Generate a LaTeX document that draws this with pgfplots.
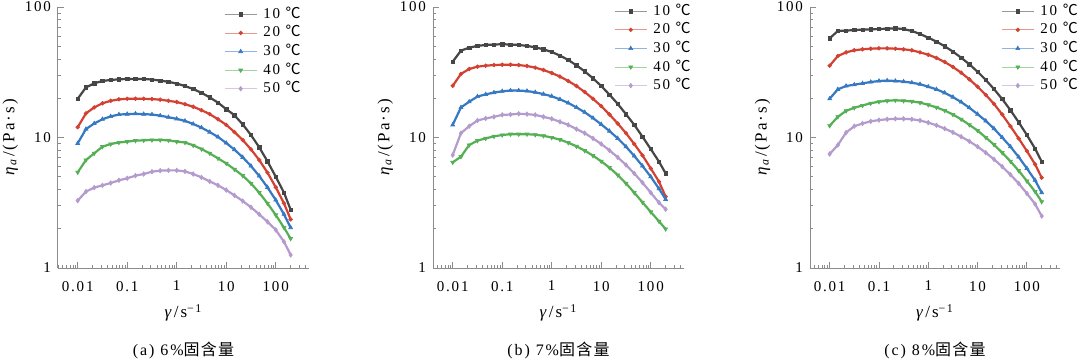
\documentclass[border=0pt]{standalone}
\usepackage{fontspec}
\usepackage{pgfplots}
\pgfplotsset{compat=1.18}
\usepackage{pgfplotstable}
\setmainfont{Liberation Serif}[LetterSpace=12]
\newfontfamily\cjk{Noto Sans CJK SC}[LetterSpace=8]
\newcommand{\dC}{{\cjk ℃}}
\definecolor{c10}{RGB}{70,70,70}
\definecolor{c20}{RGB}{210,65,50}
\definecolor{c30}{RGB}{55,120,195}
\definecolor{c40}{RGB}{85,175,85}
\definecolor{c50}{RGB}{180,155,205}

\pgfplotstableread{
x t10 t20 t30 t40 t50
0.01 19.8 12.0 9.02 5.41 3.28
0.01468 24.2 15.3 11.6 6.72 3.85
0.02154 26.0 17.0 12.8 7.56 4.13
0.03162 27.1 18.3 13.8 8.51 4.30
0.04642 27.6 19.1 14.5 8.91 4.48
0.06813 27.9 19.6 15.0 9.16 4.70
0.1 28.1 19.8 15.1 9.29 4.87
0.1468 28.1 19.8 15.2 9.46 5.10
0.2154 28.1 19.8 15.1 9.52 5.25
0.3162 27.8 19.7 15.0 9.57 5.47
0.4642 27.3 19.5 14.7 9.57 5.57
0.6813 26.7 19.1 14.3 9.52 5.60
1 25.9 18.7 13.9 9.29 5.60
1.468 24.8 18.0 13.4 9.16 5.50
2.154 23.5 17.2 12.7 8.71 5.25
3.162 22.0 16.2 11.9 8.16 4.95
4.642 20.3 15.1 11.0 7.56 4.61
6.813 18.5 13.8 10.1 6.92 4.30
10 16.5 12.5 9.07 6.34 3.96
14.68 14.8 11.0 8.07 5.70 3.60
21.54 12.6 9.57 7.05 5.10 3.26
31.62 10.45 8.11 6.05 4.45 2.92
46.42 8.41 6.72 5.07 3.78 2.58
68.13 6.57 5.38 4.15 3.13 2.26
100 5.01 4.16 3.32 2.55 1.96
146.8 3.78 3.13 2.58 2.04 1.59
200 2.80 2.36 2.04 1.68 1.26
}\dataA

\pgfplotstableread{
x t10 t20 t30 t40 t50
0.01 38.1 24.9 12.5 6.45 7.34
0.01468 46.3 30.7 17.0 7.13 10.8
0.02154 48.8 33.5 18.8 8.76 12.2
0.03162 50.3 34.9 20.6 9.46 13.5
0.04642 51.2 35.5 21.4 9.85 14.0
0.06813 51.5 35.9 22.1 10.2 14.4
0.1 51.9 36.1 22.6 10.45 14.9
0.1468 51.5 36.1 22.9 10.6 15.0
0.2154 51.2 35.9 22.9 10.6 15.2
0.3162 50.3 35.3 22.7 10.6 15.1
0.4642 49.1 34.3 22.2 10.5 14.9
0.6813 47.4 32.9 21.5 10.3 14.4
1 45.2 31.2 20.7 10.0 13.9
1.468 42.4 29.3 19.6 9.63 13.2
2.154 39.3 27.1 18.4 9.13 12.5
3.162 35.7 24.8 17.0 8.56 11.6
4.642 32.1 22.3 15.6 7.93 10.8
6.813 28.4 19.8 14.1 7.26 9.85
10 24.8 17.4 12.6 6.57 8.92
14.68 21.3 15.0 11.2 5.87 7.97
21.54 18.1 12.8 9.85 5.16 7.05
31.62 15.1 10.8 8.51 4.45 6.16
46.42 12.5 8.92 7.22 3.78 5.31
68.13 10.15 7.30 6.05 3.19 4.51
100 8.16 5.80 5.01 2.69 3.78
146.8 6.53 4.59 4.05 2.28 3.17
200 5.31 3.52 3.36 1.99 2.82
}\dataB

\pgfplotstableread{
x t10 t20 t30 t40 t50
0.01 57.5 35.5 19.8 12.3 7.47
0.01468 65.5 42.1 23.4 14.4 8.76
0.02154 65.9 44.9 24.8 16.0 10.9
0.03162 66.6 46.6 25.4 16.9 12.2
0.04642 67.0 47.4 26.0 17.6 12.8
0.06813 67.4 47.9 26.6 18.3 13.3
0.1 67.8 48.2 27.1 18.8 13.6
0.1468 68.2 48.2 27.3 19.1 13.8
0.2154 68.6 47.9 27.1 19.3 13.9
0.3162 67.8 47.4 26.8 19.1 13.9
0.4642 65.5 46.6 26.3 18.9 13.8
0.6813 62.1 44.9 25.6 18.5 13.5
1 58.2 43.1 24.5 17.8 13.0
1.468 54.3 40.7 23.4 17.0 12.4
2.154 50.0 37.9 22.0 16.1 11.7
3.162 45.5 34.7 20.4 15.0 10.95
4.642 40.9 31.4 18.7 13.8 10.15
6.813 36.4 27.9 16.9 12.5 9.35
10 31.9 24.5 15.1 11.3 8.51
14.68 27.6 21.2 13.4 10.0 7.65
21.54 23.5 18.1 11.7 8.81 6.80
31.62 19.7 15.0 10.0 7.65 5.98
46.42 16.2 12.2 8.51 6.57 5.19
68.13 13.1 9.85 7.09 5.57 4.45
100 10.45 7.88 5.80 4.64 3.73
146.8 8.21 6.23 4.70 3.85 3.09
200 6.53 4.92 3.78 3.22 2.50
}\dataC

\tikzset{
 s10/.style={color=c10, line width=1.1pt, mark=square*, mark size=0.85pt, mark options={solid, line width=0.3pt}},
 s20/.style={color=c20, line width=1.1pt, mark=*, mark size=0.95pt, mark options={solid, line width=0.3pt}},
 s30/.style={color=c30, line width=1.1pt, mark=triangle*, mark size=1.15pt, mark options={solid, line width=0.3pt}},
 s40/.style={color=c40, line width=1.1pt, mark=triangle*, mark size=1.15pt, mark options={solid, rotate=180, line width=0.3pt}},
 s50/.style={color=c50, line width=1.1pt, mark=diamond*, mark size=1.15pt, mark options={solid, line width=0.3pt}},
}

\pgfplotsset{
  scale only axis, width=125.5pt, height=130.5pt,
  xmin=0.004, xmax=470, ymin=1, ymax=100,
  clip mode=individual,
  axis x line=bottom, axis y line=left,
  axis line style={-, draw=black!45, line width=0.5pt},
  tick style={draw=black!45, line width=0.4pt},
  tick align=inside,
  major tick length=3pt, minor tick length=1.6pt,
  log ticks with fixed point,
  /pgf/number format/assume math mode=true,
  tick label style={font=\fontsize{7.5}{9}\selectfont, text=black},
  xticklabel style={yshift=-3pt},
  label style={font=\fontsize{8.5}{9}\selectfont},
  xlabel style={at={(axis description cs:0.5,-0.172)}, anchor=center},
  ylabel style={at={(axis description cs:-0.19,0.5)}, anchor=center},
  legend cell align=left,
  legend style={draw=none, fill=none, font=\fontsize{7.5}{9}\selectfont, anchor=north west, row sep=1.1pt, column sep=2.5pt, nodes={inner sep=0.6pt, text height=5.5pt, text depth=1.5pt}},
  legend image code/.code={\draw[#1, mark=none, line width=0.4pt, draw opacity=0.55] (0pt,0pt) -- (16pt,0pt);
    \draw[mark repeat=2, mark phase=2, #1, draw=none] plot coordinates {(0pt,0pt) (8pt,0pt) (16pt,0pt)};},
}

\begin{document}
\begin{tikzpicture}
\useasboundingbox (0,0) rectangle (540pt,179.5pt);
% panel a
\begin{loglogaxis}[at={(29pt,45.5pt)}, anchor=south west,
  xlabel={\textit{γ}/s\textsuperscript{−1}},
  ylabel={\textit{η}\textsubscript{\textit{a}}/(Pa·s)},
  legend style={at={(0.637,1.02)}}]
\addplot[s10] table[x=x,y=t10]{\dataA};
\addplot[s20] table[x=x,y=t20]{\dataA};
\addplot[s30] table[x=x,y=t30]{\dataA};
\addplot[s40] table[x=x,y=t40]{\dataA};
\addplot[s50] table[x=x,y=t50]{\dataA};
\legend{10 \dC, 20 \dC, 30 \dC, 40 \dC, 50 \dC}
\node[font=\fontsize{8}{9}\selectfont] at (axis description cs:0.5,-0.314) {(a) 6\%{\cjk 固含量}};
\end{loglogaxis}
% panel b
\begin{loglogaxis}[at={(216.5pt,45.5pt)}, anchor=south west,
  xlabel={\textit{γ}/s\textsuperscript{−1}},
  ylabel={\textit{η}\textsubscript{\textit{a}}/(Pa·s)},
  legend style={at={(0.697,1.032)}}]
\addplot[s10] table[x=x,y=t10]{\dataB};
\addplot[s20] table[x=x,y=t20]{\dataB};
\addplot[s30] table[x=x,y=t30]{\dataB};
\addplot[s40] table[x=x,y=t40]{\dataB};
\addplot[s50] table[x=x,y=t50]{\dataB};
\legend{10 \dC, 20 \dC, 30 \dC, 40 \dC, 50 \dC}
\node[font=\fontsize{8}{9}\selectfont] at (axis description cs:0.5,-0.314) {(b) 7\%{\cjk 固含量}};
\end{loglogaxis}
% panel c
\begin{loglogaxis}[at={(405pt,45.5pt)}, anchor=south west, width=125pt,
  xlabel={\textit{γ}/s\textsuperscript{−1}},
  ylabel={\textit{η}\textsubscript{\textit{a}}/(Pa·s)},
  legend style={at={(0.74,1.032)}}]
\addplot[s10] table[x=x,y=t10]{\dataC};
\addplot[s20] table[x=x,y=t20]{\dataC};
\addplot[s30] table[x=x,y=t30]{\dataC};
\addplot[s40] table[x=x,y=t40]{\dataC};
\addplot[s50] table[x=x,y=t50]{\dataC};
\legend{10 \dC, 20 \dC, 30 \dC, 40 \dC, 50 \dC}
\node[font=\fontsize{8}{9}\selectfont] at (axis description cs:0.5,-0.314) {(c) 8\%{\cjk 固含量}};
\end{loglogaxis}
\end{tikzpicture}
\end{document}
